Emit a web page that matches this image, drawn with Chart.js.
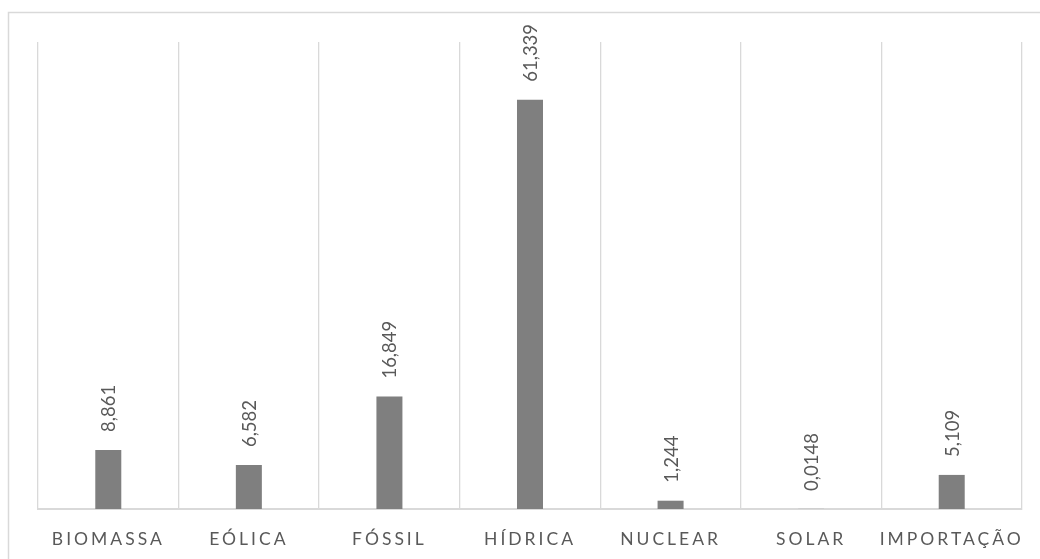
<!DOCTYPE html>
<html>
<head>
<meta charset="utf-8">
<script src="https://cdn.jsdelivr.net/npm/chart.js@4/dist/chart.umd.min.js"></script>
<style>
  html, body { margin: 0; padding: 0; background: #ffffff; }
  #wrap { position: relative; width: 1040px; height: 559px; }
</style>
</head>
<body>
<div id="wrap"><canvas id="chart" width="1040" height="559"></canvas></div>
<script>
// Matriz de geração por fonte (%)
const categories = ['BIOMASSA', 'EÓLICA', 'FÓSSIL', 'HÍDRICA', 'NUCLEAR', 'SOLAR', 'IMPORTAÇÃO'];
const shares = [8.861, 6.582, 16.849, 61.339, 1.244, 0.0148, 5.109];
const yMax = 70;

const FONT = 'Lato, "Open Sans", sans-serif';
const TEXT = '#595959';
const GRID = '#d9d9d9';

// Frame around the figure and letter spacing for the category labels
const framePlugin = {
  id: 'frame',
  beforeDraw(chart) {
    const ctx = chart.ctx;
    ctx.save();
    ctx.strokeStyle = GRID;
    ctx.lineWidth = 1.5;
    ctx.strokeRect(8.5, 12.5, 2000, 2000);
    ctx.restore();
    ctx.letterSpacing = '3px';
  },
  beforeDatasetsDraw(chart) {
    chart.ctx.letterSpacing = '0px';
  }
};

// Rotated value labels above each bar
const valueLabels = {
  id: 'valueLabels',
  afterDatasetsDraw(chart) {
    const ctx = chart.ctx;
    const meta = chart.getDatasetMeta(0);
    const values = chart.data.datasets[0].data;
    ctx.save();
    ctx.letterSpacing = '0px';
    ctx.fillStyle = TEXT;
    ctx.font = '18.5px ' + FONT;
    ctx.textAlign = 'left';
    ctx.textBaseline = 'middle';
    meta.data.forEach((bar, i) => {
      const txt = String(values[i]).replace('.', ',');
      ctx.save();
      ctx.translate(bar.x + 1, bar.y - 18);
      ctx.rotate(-Math.PI / 2);
      ctx.fillText(txt, 0, 0);
      ctx.restore();
    });
    ctx.restore();
  }
};

new Chart(document.getElementById('chart'), {
  type: 'bar',
  data: {
    labels: categories,
    datasets: [{
      data: shares,
      backgroundColor: '#7f7f7f',
      borderWidth: 0,
      categoryPercentage: 1,
      barPercentage: 0.185
    }]
  },
  options: {
    responsive: false,
    animation: false,
    layout: { padding: { left: 38, right: 18, top: 42, bottom: 0 } },
    plugins: {
      legend: { display: false },
      tooltip: { enabled: false }
    },
    scales: {
      x: {
        afterFit(scale) { scale.height = 50; },
        grid: {
          display: true,
          offset: true,
          color: GRID,
          lineWidth: 1.3,
          drawTicks: false
        },
        border: { display: true, color: GRID, width: 2 },
        ticks: {
          color: TEXT,
          font: { family: FONT, size: 17.5 },
          padding: 20,
          maxRotation: 0,
          autoSkip: false
        }
      },
      y: {
        display: false,
        min: 0,
        max: yMax
      }
    }
  },
  plugins: [framePlugin, valueLabels]
});
</script>
</body>
</html>
